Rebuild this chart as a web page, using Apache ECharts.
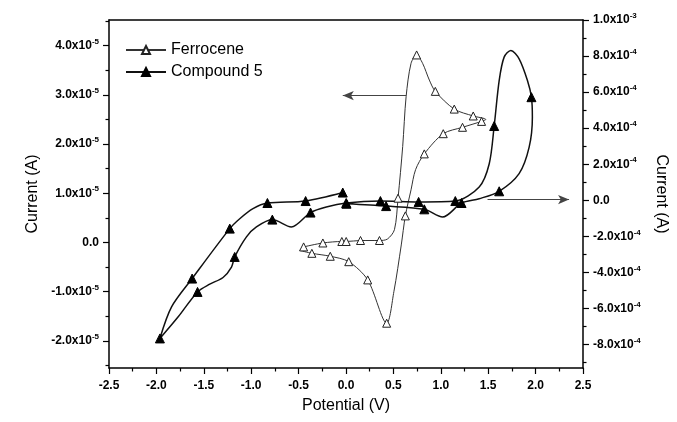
<!DOCTYPE html>
<html><head><meta charset="utf-8">
<script src="https://cdn.jsdelivr.net/npm/echarts@6/dist/echarts.min.js"></script>
<style>html,body{margin:0;padding:0;background:#fff}#c{width:677px;height:422px}</style>
</head><body><div id="c"></div>
<script>
// Ferrocene (left axis, current in units of 1e-5 A)
const ferroceneV = [-0.447,-0.244,-0.044,0.002,0.153,0.353,0.437,0.511,0.549,0.598,0.634,0.686,0.745,0.808,0.879,0.942,1.142,1.342,1.475,
  1.43,1.229,1.026,0.826,0.734,0.686,0.626,0.583,0.505,0.429,0.229,0.029,-0.166,-0.36,-0.49];
const ferroceneI = [-0.09,-0.01,0.02,0.02,0.04,0.04,0.07,0.26,0.90,1.95,2.96,3.64,3.81,3.64,3.30,3.07,2.71,2.57,2.50,
  2.46,2.34,2.21,1.80,1.48,1.07,0.54,-0.05,-1.00,-1.64,-0.76,-0.39,-0.28,-0.22,-0.16];
const ferroceneMarked = [1,1,1,1,1,1,0,0,1,0,0,0,1,0,0,1,1,1,0,
  1,1,1,1,0,0,1,0,0,1,1,1,1,1,0];
// Compound 5 (right axis, current in units of 1e-4 A)
const compoundV = [-0.034,-0.426,-0.829,-0.981,-1.121,-1.226,-1.623,-1.84,-1.963,-1.77,-1.566,-1.437,-1.297,-1.208,-1.174,-1.05,-0.945,-0.777,-0.577,-0.374,-0.208,0.002,0.363,0.766,1.153,1.405,1.511,1.563,1.616,1.668,1.739,1.826,1.914,1.956,1.966,1.932,1.826,1.616,1.405,1.219,1.019,0.826,0.423,0.005];
const compoundI = [0.43,-0.04,-0.15,-0.46,-1.02,-1.57,-4.34,-5.91,-7.66,-6.46,-5.08,-4.65,-4.28,-3.70,-3.14,-2.03,-1.48,-1.07,-1.48,-0.68,-0.37,-0.15,-0.04,-0.09,-0.04,0.74,2.03,4.12,6.65,7.94,8.31,7.85,6.65,5.72,4.61,2.95,1.48,0.50,0.09,-0.15,-0.93,-0.50,-0.32,-0.19];
const compoundMarked = [1,1,1,0,0,1,1,0,1,0,1,0,0,0,1,0,0,1,0,1,0,1,1,1,1,0,0,1,0,0,0,0,0,1,0,0,0,1,0,1,0,1,1,1];
// Axis ticks and labels
const xRange = [-2.5, 2.5];
const leftRange = [-2.55, 4.52];
const rightRange = [-9.3, 10];
const leftTicks = [-2,-1,0,1,2,3,4];
const leftTickLabels = ['-2.0x10^-5','-1.0x10^-5','0.0','1.0x10^-5','2.0x10^-5','3.0x10^-5','4.0x10^-5'];
const leftMinorTicks = [-2.5,-1.5,-0.5,0.5,1.5,2.5,3.5,4.5];
const rightTicks = [-8,-6,-4,-2,0,2,4,6,8,10];
const rightTickLabels = ['-8.0x10^-4','-6.0x10^-4','-4.0x10^-4','-2.0x10^-4','0.0','2.0x10^-4','4.0x10^-4','6.0x10^-4','8.0x10^-4','1.0x10^-3'];
const rightMinorTicks = [-9,-7,-5,-3,-1,1,3,5,7,9];
const seriesNames = ['Ferrocene','Compound 5'];
const leftArrow = [[0.634, 2.985], [-0.034, 2.985]];
const rightArrow = [[1.493, 0.04], [2.353, 0.04]];

const FONT = '"Liberation Sans", Arial, Helvetica, sans-serif';
function buildData(vs, is, marks) {
  return vs.map((v, k) => marks[k] ? {value: [v, is[k]]} : {value: [v, is[k]], symbol: 'none'});
}
function richLabel(ticks, labels) {
  return function (val) {
    let k = -1;
    for (let j = 0; j < ticks.length; j++) if (Math.abs(ticks[j] - val) < 1e-6) k = j;
    if (k < 0) return '';
    const p = labels[k].split('^');
    return p.length === 1 ? '{b|' + p[0] + '}' : '{b|' + p[0] + '}{s|' + p[1] + '}';
  };
}
const rich = {
  b: {fontSize: 12, fontWeight: 'bold', fontFamily: FONT, color: '#000', lineHeight: 16},
  s: {fontSize: 8, fontWeight: 'bold', fontFamily: FONT, color: '#000', verticalAlign: 'top', lineHeight: 9}
};
const axisLine = {show: true, onZero: false, lineStyle: {color: '#000', width: 1.5}};

const chart = echarts.init(document.getElementById('c'), null, {renderer: 'canvas'});
chart.setOption({
  animation: false,
  backgroundColor: '#fff',
  grid: {left: 109, right: 94, top: 20, bottom: 54},
  legend: {
    left: 120, top: 37, orient: 'vertical', itemWidth: 40, itemHeight: 10, itemGap: 6,
    textStyle: {fontSize: 16, fontFamily: FONT, color: '#000'},
    data: seriesNames
  },
  xAxis: [{
    type: 'value', min: xRange[0], max: xRange[1], interval: 0.5, position: 'bottom',
    name: 'Potential (V)', nameLocation: 'middle', nameGap: 30,
    nameTextStyle: {fontSize: 16, fontFamily: FONT, color: '#000'},
    axisLine: axisLine,
    axisTick: {show: true, length: 6, lineStyle: {color: '#000', width: 1.2}},
    minorTick: {show: true, splitNumber: 2, length: 3.5, lineStyle: {color: '#000', width: 1.2}},
    axisLabel: {margin: 12, fontSize: 12, fontWeight: 'bold', fontFamily: FONT, color: '#000',
      formatter: v => v.toFixed(1)},
    splitLine: {show: false}, minorSplitLine: {show: false}
  }, {
    type: 'value', min: xRange[0], max: xRange[1], position: 'top',
    axisLine: axisLine, axisTick: {show: false}, axisLabel: {show: false}, splitLine: {show: false}
  }],
  yAxis: [{
    type: 'value', min: leftRange[0], max: leftRange[1], position: 'left',
    name: 'Current (A)', nameLocation: 'middle', nameGap: 58,
    nameTextStyle: {fontSize: 16, fontFamily: FONT, color: '#000'},
    axisLine: axisLine,
    axisTick: {show: true, length: 6, customValues: leftTicks, lineStyle: {color: '#000', width: 1.2}},
    axisLabel: {margin: 10, customValues: leftTicks, formatter: richLabel(leftTicks, leftTickLabels), rich: rich},
    splitLine: {show: false}
  }, {
    type: 'value', min: rightRange[0], max: rightRange[1], position: 'right',
    name: 'Current (A)', nameLocation: 'middle', nameGap: 70, nameRotate: -90,
    nameTextStyle: {fontSize: 16, fontFamily: FONT, color: '#000'},
    axisLine: axisLine,
    axisTick: {show: true, length: 6, customValues: rightTicks, lineStyle: {color: '#000', width: 1.2}},
    axisLabel: {margin: 10, customValues: rightTicks, formatter: richLabel(rightTicks, rightTickLabels), rich: rich},
    splitLine: {show: false}
  }, {
    type: 'value', min: leftRange[0], max: leftRange[1], position: 'left',
    axisLine: {show: false, onZero: false},
    axisTick: {show: true, length: 3.5, customValues: leftMinorTicks, lineStyle: {color: '#000', width: 1.2}},
    axisLabel: {show: false}, splitLine: {show: false}
  }, {
    type: 'value', min: rightRange[0], max: rightRange[1], position: 'right',
    axisLine: {show: false, onZero: false},
    axisTick: {show: true, length: 3.5, customValues: rightMinorTicks, lineStyle: {color: '#000', width: 1.2}},
    axisLabel: {show: false}, splitLine: {show: false}
  }],
  series: [{
    name: seriesNames[0], type: 'line', xAxisIndex: 0, yAxisIndex: 0,
    smooth: 0.3, symbol: 'triangle', symbolSize: 8, showAllSymbol: true,
    lineStyle: {color: '#333', width: 1},
    itemStyle: {color: '#fff', borderColor: '#222', borderWidth: 1},
    emphasis: {disabled: true},
    data: buildData(ferroceneV, ferroceneI, ferroceneMarked),
    markLine: {
      silent: true, animation: false, symbol: ['none', 'arrow'], symbolSize: [7, 11],
      lineStyle: {color: '#444', width: 1, type: 'solid'}, label: {show: false},
      emphasis: {disabled: true},
      data: [[{coord: leftArrow[0]}, {coord: leftArrow[1]}]]
    }
  }, {
    name: seriesNames[1], type: 'line', xAxisIndex: 0, yAxisIndex: 1,
    smooth: 0.3, symbol: 'triangle', symbolSize: 9, showAllSymbol: true,
    lineStyle: {color: '#111', width: 1.5},
    itemStyle: {color: '#000', borderColor: '#000', borderWidth: 1},
    emphasis: {disabled: true},
    data: buildData(compoundV, compoundI, compoundMarked),
    markLine: {
      silent: true, animation: false, symbol: ['none', 'arrow'], symbolSize: [7, 11],
      lineStyle: {color: '#444', width: 1, type: 'solid'}, label: {show: false},
      emphasis: {disabled: true},
      data: [[{coord: rightArrow[0]}, {coord: rightArrow[1]}]]
    }
  }]
});
</script>
</body></html>
